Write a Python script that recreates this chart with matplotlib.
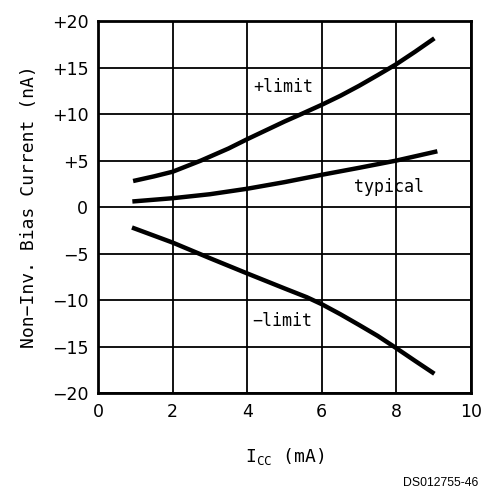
import matplotlib
matplotlib.use("Agg")
import matplotlib.pyplot as plt

plus_x = [0.94, 1.5, 2, 2.76, 3.5, 4, 5, 5.45, 6, 6.5, 7, 7.5, 8, 8.5, 9.02]
plus_y = [2.8, 3.3, 3.8, 5.0, 6.3, 7.3, 9.2, 10.0, 11.0, 11.97, 13.04, 14.19, 15.37, 16.7, 18.15]
typ_x = [0.92, 2, 3, 4, 5, 6, 7, 8, 9.1]
typ_y = [0.6, 0.95, 1.38, 1.97, 2.68, 3.47, 4.22, 5.0, 6.0]
minus_x = [0.91, 2, 3, 4, 5, 5.6, 6, 6.5, 7, 7.5, 8, 8.5, 9.02]
minus_y = [-2.2, -3.82, -5.5, -7.14, -8.75, -9.7, -10.45, -11.53, -12.68, -13.86, -15.18, -16.54, -17.93]

xticks = [0, 2, 4, 6, 8, 10]
yticks = [-20, -15, -10, -5, 0, 5, 10, 15, 20]
ytick_labels = ["\u221220", "\u221215", "\u221210", "\u22125", "0", "+5", "+10", "+15", "+20"]

MONO = ['DejaVu Sans Mono']
SANS = ['DejaVu Sans']
plt.rcParams['font.family'] = SANS
fig = plt.figure(figsize=(4.83, 4.91), dpi=100)
ax = fig.add_axes([0.203, 0.1996, 0.772, 0.7574])

for xs, ys in [(plus_x, plus_y), (typ_x, typ_y), (minus_x, minus_y)]:
    ax.plot(xs, ys, color='black', lw=3.2, solid_capstyle='butt',
            solid_joinstyle='round', zorder=3)

ax.set_xlim(0, 10)
ax.set_ylim(-20, 20)
ax.set_xticks(xticks)
ax.set_xticklabels([str(t) for t in xticks])
ax.set_yticks(yticks)
ax.set_yticklabels(ytick_labels)
ax.tick_params(length=0, labelsize=12.5, pad=7)
ax.grid(True, color='black', lw=1.3)
for s in ax.spines.values():
    s.set_linewidth(2)

ax.text(4.96, 12.9, "+limit", fontsize=12, ha='center', va='center', family=MONO)
ax.text(7.8, 2.2, "typical", fontsize=12, ha='center', va='center', family=MONO)
ax.text(4.95, -12.3, "\u2212limit", fontsize=12, ha='center', va='center', family=MONO)

ax.set_ylabel("Non\u2212Inv. Bias Current (nA)", fontsize=13, labelpad=10, family=MONO)
ax.set_xlabel(r"I$_{\mathregular{CC}}$ (mA)", fontsize=13, labelpad=18, family=MONO)
fig.text(0.99, 0.005, "DS012755-46", fontsize=8.8, ha='right', va='bottom',
         family='Liberation Sans')

fig.savefig("out.png", dpi=100)
